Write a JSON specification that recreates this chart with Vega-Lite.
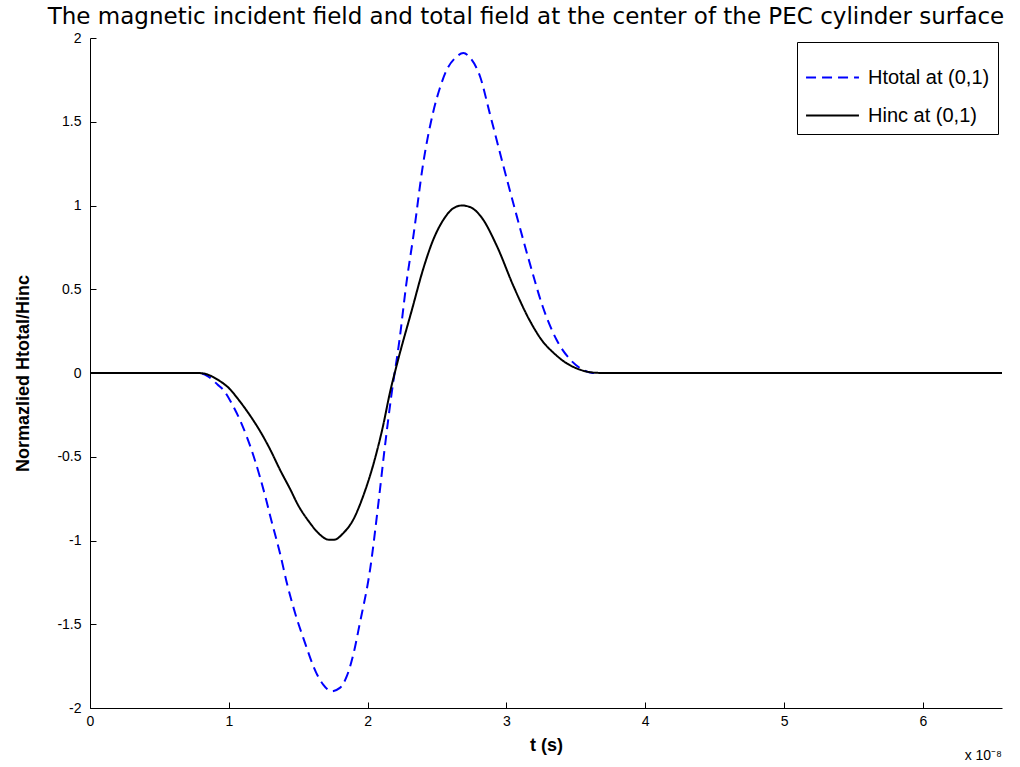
{
  "$schema": "https://vega.github.io/schema/vega-lite/v6.json",
  "autosize": {"type": "none"},
  "width": 912,
  "height": 670,
  "padding": {"left": 90, "top": 38, "right": 18, "bottom": 59},
  "background": "white",
  "title": {
    "text": "The magnetic incident field and total field at the center of the PEC cylinder surface",
    "font": "DejaVu Sans",
    "fontSize": 23,
    "fontWeight": "normal",
    "color": "black",
    "anchor": "middle",
    "dx": -20,
    "offset": 2
  },
  "config": {
    "view": {"stroke": null},
    "font": "Liberation Sans",
    "axis": {
      "domainColor": "black",
      "domainWidth": 1,
      "tickColor": "black",
      "grid": false,
      "labelFont": "Liberation Sans",
      "labelFontSize": 14,
      "labelColor": "black",
      "titleFont": "Liberation Sans",
      "titleFontSize": 18,
      "titleFontWeight": "bold",
      "titleColor": "black"
    }
  },
  "datasets": {
    "curves": [
      {"t": 0, "v": 0, "s": "Htotal at (0,1)"},
      {"t": 0.78, "v": 0, "s": "Htotal at (0,1)"},
      {"t": 0.85, "v": -0.02, "s": "Htotal at (0,1)"},
      {"t": 0.92, "v": -0.07, "s": "Htotal at (0,1)"},
      {"t": 0.96, "v": -0.1, "s": "Htotal at (0,1)"},
      {"t": 1.02, "v": -0.18, "s": "Htotal at (0,1)"},
      {"t": 1.08, "v": -0.28, "s": "Htotal at (0,1)"},
      {"t": 1.18, "v": -0.5, "s": "Htotal at (0,1)"},
      {"t": 1.27, "v": -0.76, "s": "Htotal at (0,1)"},
      {"t": 1.3, "v": -0.86, "s": "Htotal at (0,1)"},
      {"t": 1.37, "v": -1.08, "s": "Htotal at (0,1)"},
      {"t": 1.42, "v": -1.26, "s": "Htotal at (0,1)"},
      {"t": 1.48, "v": -1.44, "s": "Htotal at (0,1)"},
      {"t": 1.54, "v": -1.59, "s": "Htotal at (0,1)"},
      {"t": 1.63, "v": -1.79, "s": "Htotal at (0,1)"},
      {"t": 1.68, "v": -1.86, "s": "Htotal at (0,1)"},
      {"t": 1.74, "v": -1.9, "s": "Htotal at (0,1)"},
      {"t": 1.8, "v": -1.88, "s": "Htotal at (0,1)"},
      {"t": 1.85, "v": -1.81, "s": "Htotal at (0,1)"},
      {"t": 1.9, "v": -1.67, "s": "Htotal at (0,1)"},
      {"t": 1.94, "v": -1.51, "s": "Htotal at (0,1)"},
      {"t": 2.02, "v": -1.16, "s": "Htotal at (0,1)"},
      {"t": 2.08, "v": -0.76, "s": "Htotal at (0,1)"},
      {"t": 2.12, "v": -0.47, "s": "Htotal at (0,1)"},
      {"t": 2.17, "v": -0.14, "s": "Htotal at (0,1)"},
      {"t": 2.23, "v": 0.2, "s": "Htotal at (0,1)"},
      {"t": 2.28, "v": 0.54, "s": "Htotal at (0,1)"},
      {"t": 2.33, "v": 0.82, "s": "Htotal at (0,1)"},
      {"t": 2.4, "v": 1.25, "s": "Htotal at (0,1)"},
      {"t": 2.47, "v": 1.55, "s": "Htotal at (0,1)"},
      {"t": 2.52, "v": 1.7, "s": "Htotal at (0,1)"},
      {"t": 2.57, "v": 1.81, "s": "Htotal at (0,1)"},
      {"t": 2.63, "v": 1.88, "s": "Htotal at (0,1)"},
      {"t": 2.69, "v": 1.91, "s": "Htotal at (0,1)"},
      {"t": 2.74, "v": 1.88, "s": "Htotal at (0,1)"},
      {"t": 2.81, "v": 1.77, "s": "Htotal at (0,1)"},
      {"t": 2.88, "v": 1.55, "s": "Htotal at (0,1)"},
      {"t": 2.98, "v": 1.23, "s": "Htotal at (0,1)"},
      {"t": 3.07, "v": 0.95, "s": "Htotal at (0,1)"},
      {"t": 3.17, "v": 0.65, "s": "Htotal at (0,1)"},
      {"t": 3.26, "v": 0.4, "s": "Htotal at (0,1)"},
      {"t": 3.36, "v": 0.2, "s": "Htotal at (0,1)"},
      {"t": 3.46, "v": 0.08, "s": "Htotal at (0,1)"},
      {"t": 3.55, "v": 0.02, "s": "Htotal at (0,1)"},
      {"t": 3.62, "v": 0, "s": "Htotal at (0,1)"},
      {"t": 6.57, "v": 0, "s": "Htotal at (0,1)"},
      {"t": 0, "v": 0, "s": "Hinc at (0,1)"},
      {"t": 0.78, "v": 0, "s": "Hinc at (0,1)"},
      {"t": 0.85, "v": -0.01, "s": "Hinc at (0,1)"},
      {"t": 0.92, "v": -0.04, "s": "Hinc at (0,1)"},
      {"t": 1.0, "v": -0.09, "s": "Hinc at (0,1)"},
      {"t": 1.08, "v": -0.17, "s": "Hinc at (0,1)"},
      {"t": 1.15, "v": -0.25, "s": "Hinc at (0,1)"},
      {"t": 1.22, "v": -0.34, "s": "Hinc at (0,1)"},
      {"t": 1.3, "v": -0.46, "s": "Hinc at (0,1)"},
      {"t": 1.37, "v": -0.58, "s": "Hinc at (0,1)"},
      {"t": 1.44, "v": -0.69, "s": "Hinc at (0,1)"},
      {"t": 1.5, "v": -0.79, "s": "Hinc at (0,1)"},
      {"t": 1.58, "v": -0.89, "s": "Hinc at (0,1)"},
      {"t": 1.65, "v": -0.96, "s": "Hinc at (0,1)"},
      {"t": 1.72, "v": -0.995, "s": "Hinc at (0,1)"},
      {"t": 1.76, "v": -0.995, "s": "Hinc at (0,1)"},
      {"t": 1.82, "v": -0.96, "s": "Hinc at (0,1)"},
      {"t": 1.9, "v": -0.87, "s": "Hinc at (0,1)"},
      {"t": 1.97, "v": -0.73, "s": "Hinc at (0,1)"},
      {"t": 2.05, "v": -0.52, "s": "Hinc at (0,1)"},
      {"t": 2.11, "v": -0.32, "s": "Hinc at (0,1)"},
      {"t": 2.16, "v": -0.12, "s": "Hinc at (0,1)"},
      {"t": 2.22, "v": 0.08, "s": "Hinc at (0,1)"},
      {"t": 2.32, "v": 0.38, "s": "Hinc at (0,1)"},
      {"t": 2.4, "v": 0.62, "s": "Hinc at (0,1)"},
      {"t": 2.47, "v": 0.79, "s": "Hinc at (0,1)"},
      {"t": 2.55, "v": 0.92, "s": "Hinc at (0,1)"},
      {"t": 2.62, "v": 0.985, "s": "Hinc at (0,1)"},
      {"t": 2.68, "v": 1.0, "s": "Hinc at (0,1)"},
      {"t": 2.74, "v": 0.99, "s": "Hinc at (0,1)"},
      {"t": 2.82, "v": 0.93, "s": "Hinc at (0,1)"},
      {"t": 2.93, "v": 0.76, "s": "Hinc at (0,1)"},
      {"t": 3.05, "v": 0.52, "s": "Hinc at (0,1)"},
      {"t": 3.17, "v": 0.31, "s": "Hinc at (0,1)"},
      {"t": 3.26, "v": 0.19, "s": "Hinc at (0,1)"},
      {"t": 3.34, "v": 0.12, "s": "Hinc at (0,1)"},
      {"t": 3.43, "v": 0.06, "s": "Hinc at (0,1)"},
      {"t": 3.53, "v": 0.02, "s": "Hinc at (0,1)"},
      {"t": 3.62, "v": 0.003, "s": "Hinc at (0,1)"},
      {"t": 3.7, "v": 0, "s": "Hinc at (0,1)"},
      {"t": 6.57, "v": 0, "s": "Hinc at (0,1)"}
    ]
  },
  "layer": [
    {
      "data": {"name": "curves"},
      "mark": {"type": "line", "strokeWidth": 2, "interpolate": "monotone", "clip": true},
      "encoding": {
        "x": {
          "field": "t",
          "type": "quantitative",
          "scale": {"domain": [0, 6.57], "nice": false, "zero": false},
          "axis": {
            "title": "t (s)",
            "values": [0, 1, 2, 3, 4, 5, 6],
            "tickSize": -6,
            "labelPadding": 12,
            "titlePadding": 8,
            "labelExpr": "'' + datum.value",
            "labelFlush": false
          }
        },
        "y": {
          "field": "v",
          "type": "quantitative",
          "scale": {"domain": [-2, 2], "nice": false},
          "axis": {
            "title": "Normazlied Htotal/Hinc",
            "values": [-2, -1.5, -1, -0.5, 0, 0.5, 1, 1.5, 2],
            "tickSize": -6,
            "labelPadding": 15,
            "titlePadding": 24,
            "labelExpr": "'' + datum.value",
            "labelFlush": false
          }
        },
        "color": {
          "field": "s",
          "type": "nominal",
          "scale": {"domain": ["Htotal at (0,1)", "Hinc at (0,1)"], "range": ["#0000ff", "#000000"]},
          "legend": {
            "title": null,
            "orient": "top-right",
            "offset": 4,
            "strokeColor": "black",
            "fillColor": "white",
            "padding": 8,
            "symbolType": "stroke",
            "symbolSize": 2800,
            "symbolStrokeWidth": 2,
            "labelFont": "Liberation Sans",
            "labelFontSize": 20,
            "labelOffset": 8,
            "labelColor": "black",
            "rowPadding": 0
          }
        },
        "strokeDash": {
          "field": "s",
          "type": "nominal",
          "scale": {"domain": ["Htotal at (0,1)", "Hinc at (0,1)"], "range": [[10, 6], [1, 0]]},
          "legend": {
            "title": null,
            "orient": "top-right",
            "offset": 4,
            "strokeColor": "black",
            "fillColor": "white",
            "padding": 8,
            "symbolType": "stroke",
            "symbolSize": 2800,
            "symbolStrokeWidth": 2,
            "labelFont": "Liberation Sans",
            "labelFontSize": 20,
            "labelOffset": 8,
            "labelColor": "black",
            "rowPadding": 0
          }
        },
        "order": {"field": "t", "type": "quantitative"}
      }
    },
    {
      "data": {"values": [{"note": "x 10⁻⁸"}]},
      "mark": {"type": "text", "align": "right", "baseline": "top", "dy": 41, "dx": 0, "fontSize": 14, "font": "Liberation Sans", "color": "black"},
      "encoding": {
        "text": {"field": "note"},
        "x": {"datum": 6.57, "type": "quantitative"},
        "y": {"datum": -2, "type": "quantitative"}
      }
    }
  ]
}
